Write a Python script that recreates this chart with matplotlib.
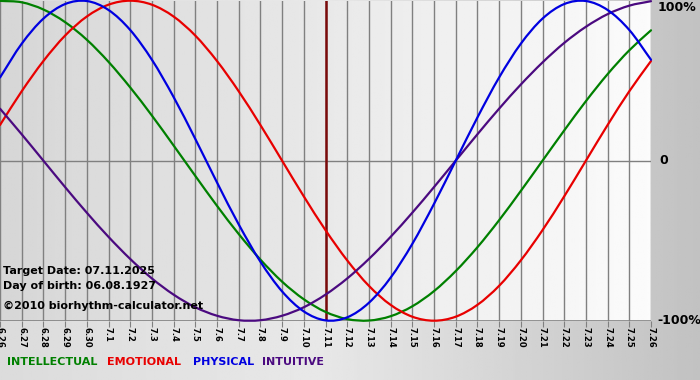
import matplotlib
matplotlib.use('Agg')
import matplotlib.pyplot as plt
from matplotlib.path import Path
from matplotlib.patches import PathPatch
import numpy as np

# dates shown on the x axis (one per day)
dates = ['6.26', '6.27', '6.28', '6.29', '6.30', '7.1', '7.2', '7.3', '7.4', '7.5',
         '7.6', '7.7', '7.8', '7.9', '7.10', '7.11', '7.12', '7.13', '7.14', '7.15',
         '7.16', '7.17', '7.18', '7.19', '7.20', '7.21', '7.22', '7.23', '7.24', '7.25',
         '7.26']
target_idx = 15  # 7.11

# values, -1 .. 1
intellectual = [0.999, 0.990, 0.945, 0.866, 0.756, 0.618, 0.458, 0.282, 0.095, -0.095,
                -0.282, -0.458, -0.618, -0.756, -0.866, -0.945, -0.990, -0.999, -0.972,
                -0.910, -0.815, -0.690, -0.541, -0.372, -0.189, 0.000, 0.189, 0.372,
                0.541, 0.690, 0.815]
emotional = [0.223, 0.434, 0.623, 0.782, 0.901, 0.975, 1.000, 0.975, 0.901, 0.782,
             0.623, 0.434, 0.223, 0.000, -0.223, -0.434, -0.623, -0.782, -0.901, -0.975,
             -1.000, -0.975, -0.901, -0.782, -0.623, -0.434, -0.223, 0.000, 0.223, 0.434,
             0.623]
physical = [0.520, 0.731, 0.888, 0.979, 0.998, 0.942, 0.817, 0.631, 0.398, 0.136,
            -0.136, -0.398, -0.631, -0.817, -0.942, -0.998, -0.979, -0.888, -0.731, -0.520,
            -0.270, 0.000, 0.270, 0.520, 0.731, 0.888, 0.979, 0.998, 0.942, 0.817,
            0.631]
intuitive = [0.325, 0.165, 0.000, -0.165, -0.325, -0.476, -0.614, -0.736, -0.837, -0.916,
             -0.969, -0.997, -0.997, -0.969, -0.916, -0.837, -0.736, -0.614, -0.476, -0.325,
             -0.165, 0.000, 0.165, 0.325, 0.476, 0.614, 0.736, 0.837, 0.916, 0.969,
             0.997]

col_int = '#008000'
col_emo = '#e80000'
col_phy = '#0000e0'
col_intu = '#4b0a80'


def smooth_line(ax, xs, ys, color, z):
    # draw the daily points as one smooth bezier path (catmull-rom style)
    p = np.column_stack([xs, ys]).astype(float)
    ext = np.vstack([2 * p[0] - p[1], p, 2 * p[-1] - p[-2]])
    verts = [p[0]]
    codes = [Path.MOVETO]
    for i in range(len(p) - 1):
        c1 = ext[i + 1] + (ext[i + 2] - ext[i]) / 6
        c2 = ext[i + 2] - (ext[i + 3] - ext[i + 1]) / 6
        verts += [c1, c2, p[i + 1]]
        codes += [Path.CURVE4] * 3
    patch = PathPatch(Path(verts, codes), fill=False, edgecolor=color, lw=1.6,
                      zorder=z, clip_on=False, capstyle='round')
    ax.add_patch(patch)


fig = plt.figure(figsize=(7, 3.8), dpi=100)

# figure background gradient
bg = fig.add_axes([0, 0, 1, 1], zorder=-10)
g = np.interp(np.linspace(0, 1, 256), [0, 0.45, 1], [0.86, 0.91, 0.76])
bg.imshow(np.tile(g, (2, 1)), cmap='gray', vmin=0, vmax=1, aspect='auto',
          extent=[0, 1, 0, 1])
bg.axis('off')

ax = fig.add_axes([0, 59.3 / 380, 651 / 700, 320 / 380])
x = np.arange(len(dates))

# plot area gradient
pg = np.linspace(0.84, 0.985, 256)
ax.imshow(np.tile(pg, (2, 1)), cmap='gray', vmin=0, vmax=1, aspect='auto',
          extent=[0, len(dates) - 1, -1, 1], zorder=0)

for xi in x:
    ax.axvline(xi, color='#808080', lw=1, zorder=1)
ax.axhline(0, color='#808080', lw=1, zorder=1)
ax.axhline(-1, color='#808080', lw=1.2, zorder=1)
ax.axvline(target_idx, color='#7a0a0a', lw=1.8, zorder=1.5)

smooth_line(ax, x, intellectual, col_int, 2)
smooth_line(ax, x, emotional, col_emo, 3)
smooth_line(ax, x, intuitive, col_intu, 4)
smooth_line(ax, x, physical, col_phy, 5)

ax.set_xlim(0, len(dates) - 1)
ax.set_ylim(-1, 1)
for s in ax.spines.values():
    s.set_visible(False)
ax.set_yticks([])
ax.set_xticks(x)
ax.set_xticklabels(dates, rotation=270, fontsize=6, fontweight='bold')
ax.tick_params(axis='x', length=4, color='#808080', pad=0.5)

# right hand labels
ax.text(1.01, 1.0, '100%', transform=ax.transAxes, ha='left', va='top',
        fontsize=9, fontweight='bold')
ax.text(1.013, 0.5, '0', transform=ax.transAxes, ha='left', va='center',
        fontsize=9, fontweight='bold')
ax.text(1.01, 0.0, '-100%', transform=ax.transAxes, ha='left', va='center',
        fontsize=9, fontweight='bold')

# info text
fig.text(3 / 700, 1 - 271 / 380, 'Target Date: 07.11.2025', ha='left', va='center',
         fontsize=8, fontweight='bold')
fig.text(3 / 700, 1 - 286 / 380, 'Day of birth: 06.08.1927', ha='left', va='center',
         fontsize=8, fontweight='bold')
fig.text(3 / 700, 1 - 306 / 380, '\u00a92010 biorhythm-calculator.net', ha='left',
         va='center', fontsize=8, fontweight='bold')

# legend text
leg = [('INTELLECTUAL', col_int, 7), ('EMOTIONAL', col_emo, 107),
       ('PHYSICAL', col_phy, 193), ('INTUITIVE', col_intu, 262)]
for name, c, px in leg:
    fig.text(px / 700, 1 - 362 / 380, name, color=c, ha='left', va='center',
             fontsize=8, fontweight='bold')

fig.savefig('out.png', dpi=100)
